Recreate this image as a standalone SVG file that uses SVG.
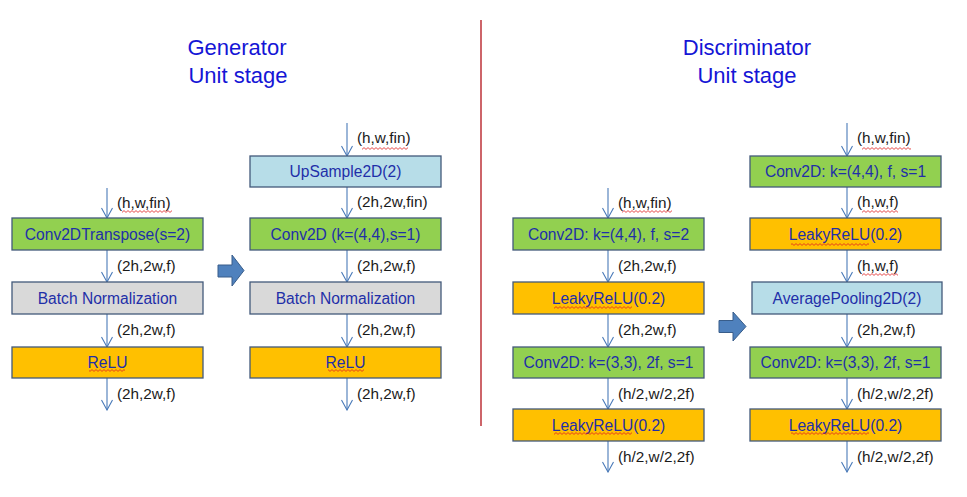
<svg xmlns="http://www.w3.org/2000/svg" width="967" height="497" viewBox="0 0 967 497">
<style>
.box{stroke:#42597a;stroke-width:1.3}
.green{fill:#92d050}.orange{fill:#ffc000}.gray{fill:#d9d9d9}.blue{fill:#b7dde8}
.bt{font-family:"Liberation Sans",Arial,sans-serif;font-size:15.6px;fill:#1f2fa8;text-anchor:middle}
.lbl{font-family:"Liberation Sans",Arial,sans-serif;font-size:15.3px;fill:#1a1a1a}
.title{font-family:"Liberation Sans",Arial,sans-serif;font-size:22px;fill:#1515d6;text-anchor:middle}
.conn line{stroke:#4a7ab8;stroke-width:1.1;marker-end:url(#ah)}
.fat{fill:#4f81bd;stroke:#385d8a;stroke-width:1}
.sq{fill:url(#squig)}
</style>
<defs>
<marker id="ah" markerUnits="userSpaceOnUse" viewBox="-1 -6 12 12" markerWidth="12" markerHeight="12" refX="10" refY="0" orient="auto">
<path d="M0,-5.5 L10,0 L0,5.5" fill="none" stroke="#4a7ab8" stroke-width="1.1"/>
</marker>
<pattern id="squig" width="4" height="3" patternUnits="userSpaceOnUse">
<path d="M0,0.6 L2,2.4 L4,0.6" fill="none" stroke="#e02020" stroke-width="0.8"/>
</pattern>
</defs>
<rect width="967" height="497" fill="#ffffff"/>

<g id="titles">
<text class="title" x="237" y="55">Generator</text>
<text class="title" x="238" y="83">Unit stage</text>
<text class="title" x="747" y="55">Discriminator</text>
<text class="title" x="747" y="83">Unit stage</text>
</g>

<line id="divider" x1="481" y1="20" x2="481" y2="426" stroke="#b8232a" stroke-width="1.4"/>

<g id="connectors" class="conn">
<line x1="107" y1="188" x2="107" y2="218"/>
<line x1="107" y1="250" x2="107" y2="282"/>
<line x1="107" y1="314" x2="107" y2="347"/>
<line x1="107" y1="378" x2="107" y2="410"/>
<line x1="347" y1="123" x2="347" y2="156"/>
<line x1="347" y1="187" x2="347" y2="218"/>
<line x1="347" y1="250" x2="347" y2="282"/>
<line x1="347" y1="314" x2="347" y2="347"/>
<line x1="347" y1="378" x2="347" y2="410"/>
<line x1="608" y1="188" x2="608" y2="218"/>
<line x1="608" y1="250" x2="608" y2="282"/>
<line x1="608" y1="314" x2="608" y2="347"/>
<line x1="608" y1="378" x2="608" y2="409"/>
<line x1="608" y1="441" x2="608" y2="472"/>
<line x1="847" y1="123" x2="847" y2="156"/>
<line x1="847" y1="187" x2="847" y2="218"/>
<line x1="847" y1="250" x2="847" y2="282"/>
<line x1="847" y1="314" x2="847" y2="347"/>
<line x1="847" y1="378" x2="847" y2="409"/>
<line x1="847" y1="441" x2="847" y2="472"/>
</g>

<g id="labels">
<text class="lbl" x="117" y="208">(h,w,fin)</text>
<text class="lbl" x="117" y="271">(2h,2w,f)</text>
<text class="lbl" x="117" y="335">(2h,2w,f)</text>
<text class="lbl" x="117" y="399">(2h,2w,f)</text>
<text class="lbl" x="357" y="143">(h,w,fin)</text>
<text class="lbl" x="357" y="207">(2h,2w,fin)</text>
<text class="lbl" x="357" y="271">(2h,2w,f)</text>
<text class="lbl" x="357" y="335">(2h,2w,f)</text>
<text class="lbl" x="357" y="399">(2h,2w,f)</text>
<text class="lbl" x="618" y="208">(h,w,fin)</text>
<text class="lbl" x="618" y="271">(2h,2w,f)</text>
<text class="lbl" x="618" y="335">(2h,2w,f)</text>
<text class="lbl" x="618" y="399">(h/2,w/2,2f)</text>
<text class="lbl" x="618" y="462">(h/2,w/2,2f)</text>
<text class="lbl" x="857" y="143">(h,w,fin)</text>
<text class="lbl" x="857" y="207">(h,w,f)</text>
<text class="lbl" x="857" y="271">(h,w,f)</text>
<text class="lbl" x="857" y="335">(2h,2w,f)</text>
<text class="lbl" x="857" y="399">(h/2,w/2,2f)</text>
<text class="lbl" x="857" y="462">(h/2,w/2,2f)</text>
</g>

<g id="gen-conv2dtranspose"><rect class="box green" x="12" y="218" width="191" height="32"/><text class="bt" x="107.5" y="239.5">Conv2DTranspose(s=2)</text></g>
<g id="gen-bn1"><rect class="box gray" x="12" y="282" width="191" height="32"/><text class="bt" x="107.5" y="303.5">Batch Normalization</text></g>
<g id="gen-relu1"><rect class="box orange" x="12" y="347" width="191" height="31"/><text class="bt" x="107.5" y="368">ReLU</text></g>

<g id="gen-upsample"><rect class="box blue" x="250" y="156" width="191" height="31"/><text class="bt" x="345.5" y="177">UpSample2D(2)</text></g>
<g id="gen-conv2d"><rect class="box green" x="250" y="218" width="191" height="32"/><text class="bt" x="345.5" y="239.5">Conv2D (k=(4,4),s=1)</text></g>
<g id="gen-bn2"><rect class="box gray" x="250" y="282" width="191" height="32"/><text class="bt" x="345.5" y="303.5">Batch Normalization</text></g>
<g id="gen-relu2"><rect class="box orange" x="250" y="347" width="191" height="31"/><text class="bt" x="345.5" y="368">ReLU</text></g>

<g id="disc-conv1"><rect class="box green" x="513" y="218" width="191" height="32"/><text class="bt" x="608.5" y="239.5">Conv2D: k=(4,4), f, s=2</text></g>
<g id="disc-leaky1"><rect class="box orange" x="513" y="282" width="191" height="32"/><text class="bt" x="608.5" y="303.5">LeakyReLU(0.2)</text></g>
<g id="disc-conv2"><rect class="box green" x="513" y="347" width="191" height="31"/><text class="bt" x="608.5" y="368">Conv2D: k=(3,3), 2f, s=1</text></g>
<g id="disc-leaky2"><rect class="box orange" x="513" y="409" width="191" height="32"/><text class="bt" x="608.5" y="430.5">LeakyReLU(0.2)</text></g>

<g id="disc2-conv1"><rect class="box green" x="750" y="156" width="191" height="31"/><text class="bt" x="845.5" y="177">Conv2D: k=(4,4), f, s=1</text></g>
<g id="disc2-leaky1"><rect class="box orange" x="750" y="218" width="191" height="32"/><text class="bt" x="845.5" y="239.5">LeakyReLU(0.2)</text></g>
<g id="disc2-avgpool"><rect class="box blue" x="752" y="282" width="190" height="32"/><text class="bt" x="847" y="303.5">AveragePooling2D(2)</text></g>
<g id="disc2-conv2"><rect class="box green" x="750" y="347" width="191" height="31"/><text class="bt" x="845.5" y="368">Conv2D: k=(3,3), 2f, s=1</text></g>
<g id="disc2-leaky2"><rect class="box orange" x="750" y="409" width="191" height="32"/><text class="bt" x="845.5" y="430.5">LeakyReLU(0.2)</text></g>

<g id="block-arrows">
<path class="fat" d="M218,265 H232 V255 L244,270.5 L232,286 V277 H218 Z"/>
<path class="fat" d="M719,320.5 H733 V312 L746,326.5 L733,341 V332.5 H719 Z"/>
</g>

<g id="spellcheck">
<rect class="sq" x="122" y="210" width="50" height="3"/>
<rect class="sq" x="89" y="369" width="36" height="3"/>
<rect class="sq" x="328" y="369" width="36" height="3"/>
<rect class="sq" x="362" y="147" width="46" height="3"/>
<rect class="sq" x="622" y="210" width="50" height="3"/>
<rect class="sq" x="554" y="306" width="78" height="3"/>
<rect class="sq" x="554" y="432" width="78" height="3"/>
<rect class="sq" x="862" y="147" width="49" height="3"/>
<rect class="sq" x="862" y="210" width="36" height="3"/>
<rect class="sq" x="791" y="243" width="78" height="3"/>
<rect class="sq" x="862" y="273" width="36" height="3"/>
<rect class="sq" x="791" y="432" width="78" height="3"/>
</g>
</svg>
